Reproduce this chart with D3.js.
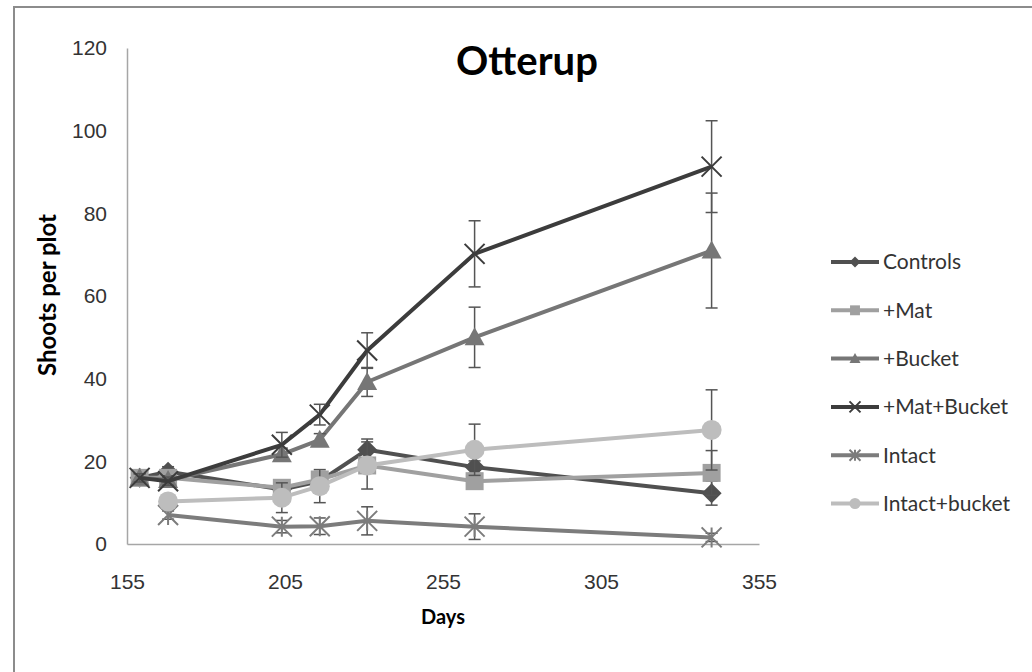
<!DOCTYPE html>
<html>
<head>
<meta charset="utf-8">
<script src="https://cdn.jsdelivr.net/npm/d3@7"></script>
<style>
  body { margin: 0; background: #fff; }
  svg { display: block; font-family: Lato, "Open Sans", sans-serif; }
</style>
</head>
<body>
<script>
// days of sampling
const days = [159, 168, 204, 216, 231, 265, 340];

// mean shoots per plot
const controls = [16, 17.5, 13.2, 15.2, 22.8, 18.6, 12.3];
const plusMat = [16, 16, 13.6, 15.6, 19, 15.2, 17.2];
const plusBucket = [16, 15.5, 21.7, 25.2, 39.2, 50, 71];
const matBucket = [16, 15.2, 24, 31.3, 46.8, 70.2, 91.3];
const intact = [null, 7, 4.2, 4.3, 5.6, 4.2, 1.6];
const intactBucket = [null, 10.3, 11.2, 14, 19, 22.8, 27.6];

// error bar half widths
const controlsErr = [1, 1.2, 1, 1, 2.6, 1.5, 2.9];
const plusMatErr = [1, 1, 1.5, 1.5, 1.5, 1.5, 5.4];
const plusBucketErr = [1, 1, 1.5, 1.5, 3.5, 7.3, 13.9];
const matBucketErr = [1, 1, 3, 2.5, 4.3, 8, 11.1];
const intactErr = [null, 1, 1.5, 2, 3.4, 3.1, 1];
const intactBucketErr = [null, 1, 3.6, 4, 5.7, 6.2, 9.7];

const xTicks = [155, 205, 255, 305, 355];
const yTicks = [0, 20, 40, 60, 80, 100, 120];

const series = [
    {name: "Controls", values: controls, err: controlsErr, color: "#505050", marker: "diamond"},
    {name: "+Mat", values: plusMat, err: plusMatErr, color: "#a0a0a0", marker: "square"},
    {name: "+Bucket", values: plusBucket, err: plusBucketErr, color: "#767676", marker: "triangle"},
    {name: "+Mat+Bucket", values: matBucket, err: matBucketErr, color: "#3c3c3c", marker: "x"},
    {name: "Intact", values: intact, err: intactErr, color: "#7c7c7c", marker: "star"},
    {name: "Intact+bucket", values: intactBucket, err: intactBucketErr, color: "#bdbdbd", marker: "circle"}
];

const width = 1032, height = 672;

const x = d3.scaleLinear().domain([155, 355]).range([127, 759]);
const y = d3.scaleLinear().domain([0, 120]).range([544, 48]);

const svg = d3.select("body").append("svg")
    .attr("width", width)
    .attr("height", height);

// chart frame (only left and top edge visible)
svg.append("path")
    .attr("d", `M14,${height} L14,7 L${width},7`)
    .attr("fill", "none")
    .attr("stroke", "#8c8c8c")
    .attr("stroke-width", 2);

// axes
const xAxis = svg.append("g")
    .attr("transform", `translate(0,${y(0)})`)
    .call(d3.axisBottom(x).tickValues(xTicks).tickSize(0).tickPadding(30));
xAxis.select(".domain").attr("stroke", "#a6a6a6").attr("stroke-width", 1.5);
xAxis.selectAll("text").attr("font-size", 21).attr("fill", "#333").attr("font-family", null);

const yAxis = svg.append("g")
    .attr("transform", `translate(${x(155)},0)`)
    .call(d3.axisLeft(y).tickValues(yTicks).tickSize(0).tickPadding(20));
yAxis.select(".domain").attr("stroke", "#a6a6a6").attr("stroke-width", 1.5);
yAxis.selectAll("text").attr("font-size", 21).attr("fill", "#333").attr("font-family", null);

// titles
svg.append("text")
    .attr("x", 527).attr("y", 75)
    .attr("text-anchor", "middle")
    .attr("font-size", 40).attr("font-weight", "bold")
    .text("Otterup");

svg.append("text")
    .attr("x", 443).attr("y", 624)
    .attr("text-anchor", "middle")
    .attr("font-size", 20).attr("font-weight", "bold")
    .text("Days");

svg.append("text")
    .attr("transform", "translate(56,295) rotate(-90)")
    .attr("text-anchor", "middle")
    .attr("font-size", 24).attr("font-weight", "bold")
    .text("Shoots per plot");

function drawMarker(g, type, color, s) {
    const h = s / 2;
    if (type === "diamond") {
        g.append("path").attr("d", `M0,${-h} L${h},0 L0,${h} L${-h},0 Z`).attr("fill", color);
    } else if (type === "square") {
        g.append("rect").attr("x", -h * 0.9).attr("y", -h * 0.9).attr("width", s * 0.9).attr("height", s * 0.9).attr("fill", color);
    } else if (type === "triangle") {
        g.append("path").attr("d", `M0,${-h} L${h},${h * 0.8} L${-h},${h * 0.8} Z`).attr("fill", color);
    } else if (type === "circle") {
        g.append("circle").attr("r", h).attr("fill", color);
    } else if (type === "x") {
        g.append("path").attr("d", `M${-h},${-h} L${h},${h} M${-h},${h} L${h},${-h}`)
            .attr("stroke", color).attr("stroke-width", 2);
    } else if (type === "star") {
        g.append("path").attr("d", `M${-h},${-h} L${h},${h} M${-h},${h} L${h},${-h} M0,${-h} L0,${h}`)
            .attr("stroke", color).attr("stroke-width", 2);
    }
}

const line = d3.line()
    .defined(d => d.v !== null)
    .x(d => x(d.day))
    .y(d => y(d.v));

series.forEach(s => {
    const pts = days.map((day, i) => ({day: day, v: s.values[i], e: s.err[i]}))
        .filter(d => d.v !== null);
    const g = svg.append("g");

    g.append("path")
        .datum(pts)
        .attr("d", line)
        .attr("fill", "none")
        .attr("stroke", s.color)
        .attr("stroke-width", 4)
        .attr("stroke-linejoin", "round");

    // error bars
    const eb = g.selectAll(".err").data(pts).join("g").attr("class", "err")
        .attr("stroke", "#555").attr("stroke-width", 1.5);
    eb.append("line")
        .attr("x1", d => x(d.day)).attr("x2", d => x(d.day))
        .attr("y1", d => y(d.v + d.e)).attr("y2", d => y(d.v - d.e));
    eb.append("line")
        .attr("x1", d => x(d.day) - 6).attr("x2", d => x(d.day) + 6)
        .attr("y1", d => y(d.v + d.e)).attr("y2", d => y(d.v + d.e));
    eb.append("line")
        .attr("x1", d => x(d.day) - 6).attr("x2", d => x(d.day) + 6)
        .attr("y1", d => y(d.v - d.e)).attr("y2", d => y(d.v - d.e));

    g.selectAll(".mk").data(pts).join("g").attr("class", "mk")
        .attr("transform", d => `translate(${x(d.day)},${y(d.v)})`)
        .each(function () { drawMarker(d3.select(this), s.marker, s.color, 20); });
});

// legend
const legend = svg.append("g");
series.forEach((s, i) => {
    const row = legend.append("g").attr("transform", `translate(831,${262 + i * 48.3})`);
    row.append("line").attr("x1", 0).attr("x2", 48)
        .attr("stroke", s.color).attr("stroke-width", 4);
    const m = row.append("g").attr("transform", "translate(24,0)");
    drawMarker(m, s.marker, s.color, 11);
    row.append("text")
        .attr("x", 52).attr("dy", "0.35em")
        .attr("font-size", 21).attr("fill", "#333")
        .text(s.name);
});
</script>
</body>
</html>
